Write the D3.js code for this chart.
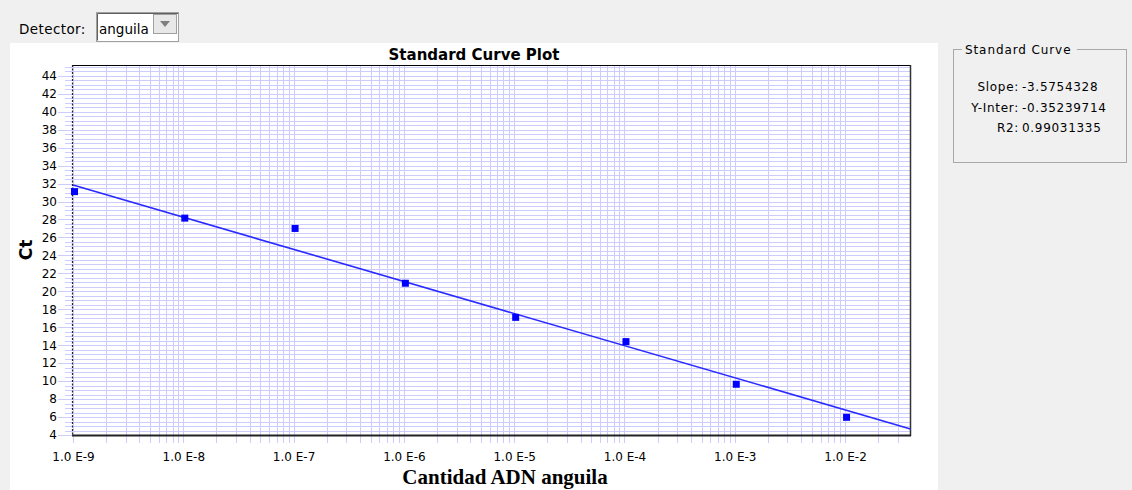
<!DOCTYPE html>
<html>
<head>
<meta charset="utf-8">
<script src="https://cdn.jsdelivr.net/npm/d3@7"></script>
<style>
  html, body { margin: 0; padding: 0; background: #f0f0f0; }
  svg { display: block; }
</style>
</head>
<body>
<svg id="chart" width="1132" height="490"></svg>
<script>
// ---------------- data ----------------
const quantities = [1e-9, 1e-8, 1e-7, 1e-6, 1e-5, 1e-4, 1e-3, 1e-2];
const ctValues = [31.1, 28.15, 27.0, 20.9, 17.1, 14.4, 9.65, 5.97];
const xTickValues = [1e-9, 1e-8, 1e-7, 1e-6, 1e-5, 1e-4, 1e-3, 1e-2];
const xTickLabels = ["1.0 E-9", "1.0 E-8", "1.0 E-7", "1.0 E-6", "1.0 E-5", "1.0 E-4", "1.0 E-3", "1.0 E-2"];
const yTickValues = [4, 6, 8, 10, 12, 14, 16, 18, 20, 22, 24, 26, 28, 30, 32, 34, 36, 38, 40, 42, 44];
const curveLabels = ["Slope:", "Y-Inter:", "R2:"];
const curveValues = ["-3.5754328", "-0.35239714", "0.99031335"];
const slope = -3.5754328;
const intercept = -0.35239714;
const xDomain = [1e-9, 0.0392];
const yDomain = [4, 45.2];

// ---------------- layout ----------------
const svg = d3.select("#chart");
const pLeft = 73, pRight = 910.5, pTop = 65, pBottom = 435;
const x = d3.scaleLog().domain(xDomain).range([pLeft, pRight]);
const y = d3.scaleLinear().domain(yDomain).range([pBottom, pTop]);
const sans = "'DejaVu Sans', sans-serif";
const gridColor = "#ccccff";

// white panel
svg.append("rect").attr("x", 10).attr("y", 43).attr("width", 928).attr("height", 447).attr("fill", "#ffffff");

// Detector control
svg.append("text").attr("x", 19).attr("y", 34).attr("font-family", sans).attr("font-size", 13.5)
  .attr("letter-spacing", 0.4).attr("fill", "#000").text("Detector:");
svg.append("rect").attr("x", 96.5).attr("y", 12.5).attr("width", 82).attr("height", 29)
  .attr("fill", "#ffffff").attr("stroke", "#a0a0a0");
svg.append("path").attr("d", "M97.5,40.5 V13.5 H178").attr("fill", "none").attr("stroke", "#606060");
svg.append("text").attr("x", 99).attr("y", 34).attr("font-family", sans).attr("font-size", 13.5)
  .attr("fill", "#000").text("anguila");
svg.append("rect").attr("x", 153.5).attr("y", 14.5).attr("width", 23).attr("height", 19)
  .attr("fill", "#e8e8e8").attr("stroke", "#a0a0a0");
svg.append("path").attr("d", "M160,21 L170,21 L165,27 Z").attr("fill", "#808080");

// title
svg.append("text").attr("x", 474).attr("y", 60).attr("text-anchor", "middle")
  .attr("font-family", sans).attr("font-weight", "bold").attr("font-size", 15)
  .attr("fill", "#000").text("Standard Curve Plot");

// grid: horizontal lines every 0.5
const hLines = d3.range(yDomain[0], yDomain[1], 0.5);
svg.append("g").selectAll("line").data(hLines).join("line")
  .attr("x1", d => (d % 2 === 0 ? 58 : 65)).attr("x2", pRight)
  .attr("y1", d => Math.round(y(d)) + 0.5).attr("y2", d => Math.round(y(d)) + 0.5)
  .attr("stroke", gridColor).attr("stroke-width", 1);

// grid: vertical lines at 1..9 per decade
const vLines = [];
for (let e = -9; e <= -2; e++) {
  for (let m = 1; m <= 9; m++) {
    const v = m * Math.pow(10, e);
    if (v >= xDomain[0] && v <= xDomain[1]) vLines.push(v);
  }
}
svg.append("g").selectAll("line").data(vLines).join("line")
  .attr("x1", d => Math.round(x(d)) + 0.5).attr("x2", d => Math.round(x(d)) + 0.5)
  .attr("y1", pTop).attr("y2", 443)
  .attr("stroke", gridColor).attr("stroke-width", 1);

// frame
svg.append("line").attr("x1", pLeft - 1).attr("x2", pRight).attr("y1", pTop + 0.5).attr("y2", pTop + 0.5)
  .attr("stroke", "#000").attr("stroke-width", 1);
svg.append("line").attr("x1", pRight).attr("x2", pRight).attr("y1", pTop).attr("y2", pBottom + 1)
  .attr("stroke", "#333").attr("stroke-width", 1.5);
svg.append("line").attr("x1", pLeft - 1).attr("x2", pRight + 0.5).attr("y1", pBottom + 0.5).attr("y2", pBottom + 0.5)
  .attr("stroke", "#222").attr("stroke-width", 2);
svg.append("line").attr("x1", pLeft - 0.5).attr("x2", pLeft - 0.5).attr("y1", pTop).attr("y2", pBottom)
  .attr("stroke", "#222").attr("stroke-width", 1.2).attr("stroke-dasharray", "2,1.5");

// y axis labels
const yAxis = d3.axisLeft(y).tickValues(yTickValues).tickSize(0).tickPadding(0).tickFormat(d3.format("d"));
const gy = svg.append("g").attr("transform", "translate(58,0)").call(yAxis);
gy.select(".domain").remove();
gy.selectAll("text").attr("font-family", sans).attr("font-size", 12).attr("fill", "#000")
  .attr("dx", -1);

// x axis labels
const xAxis = d3.axisBottom(x).tickValues(xTickValues).tickSize(0).tickPadding(0)
  .tickFormat((d, i) => xTickLabels[i]);
const gx = svg.append("g").attr("transform", "translate(0,452)").call(xAxis);
gx.select(".domain").remove();
gx.selectAll("text").attr("font-family", sans).attr("font-size", 12).attr("fill", "#000");

// axis titles
svg.append("text").attr("transform", "translate(32,250) rotate(-90)").attr("text-anchor", "middle")
  .attr("font-family", sans).attr("font-weight", "bold").attr("font-size", 17)
  .attr("fill", "#000").text("Ct");
svg.append("text").attr("x", 505).attr("y", 484).attr("text-anchor", "middle")
  .attr("font-family", "'Liberation Serif', serif").attr("font-weight", "bold").attr("font-size", 21)
  .attr("fill", "#000").text("Cantidad ADN anguila");

// regression line
const lineData = xDomain.map(q => ({ q, ct: slope * Math.log10(q) + intercept }));
svg.append("path").datum(lineData)
  .attr("d", d3.line().x(d => x(d.q)).y(d => y(d.ct)))
  .attr("fill", "none").attr("stroke", "#2a2aff").attr("stroke-width", 1.6);

// points
const pts = quantities.map((q, i) => ({ q, ct: ctValues[i] }));
svg.append("g").selectAll("rect").data(pts).join("rect")
  .attr("x", d => x(d.q) + 1.5 - 3.5).attr("y", d => y(d.ct) - 3.5)
  .attr("width", 7).attr("height", 7).attr("fill", "#0000ff");

// legend box
svg.append("rect").attr("x", 953.5).attr("y", 49.5).attr("width", 173).attr("height", 113)
  .attr("fill", "none").attr("stroke", "#a8a8a8");
svg.append("rect").attr("x", 962).attr("y", 42).attr("width", 115).attr("height", 14).attr("fill", "#f0f0f0");
svg.append("text").attr("x", 965).attr("y", 54).attr("font-family", sans).attr("font-size", 12)
  .attr("letter-spacing", 0.9).attr("fill", "#000").text("Standard Curve");
const legRows = [91, 112, 132];
svg.append("g").selectAll("text").data(curveLabels).join("text")
  .attr("x", 1019).attr("y", (d, i) => legRows[i]).attr("text-anchor", "end")
  .attr("font-family", sans).attr("font-size", 12).attr("letter-spacing", 0.7).attr("fill", "#000")
  .text(d => d);
svg.append("g").selectAll("text").data(curveValues).join("text")
  .attr("x", 1022).attr("y", (d, i) => legRows[i])
  .attr("font-family", sans).attr("font-size", 12).attr("letter-spacing", 0.7).attr("fill", "#000")
  .text(d => d);
</script>
</body>
</html>
